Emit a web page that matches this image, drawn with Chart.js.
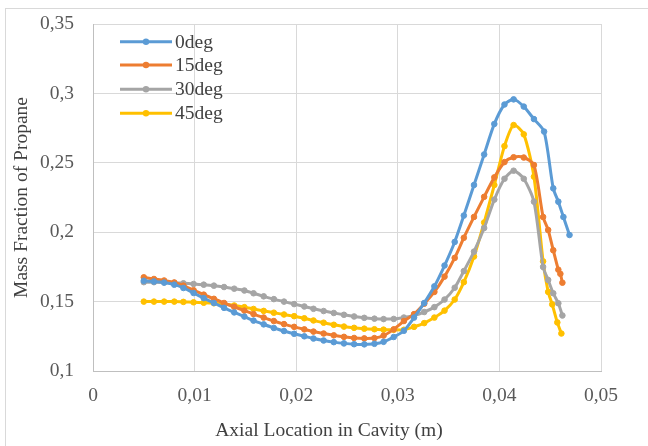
<!DOCTYPE html>
<html>
<head>
<meta charset="utf-8">
<script src="https://cdn.jsdelivr.net/npm/chart.js@4.4.1/dist/chart.umd.min.js"></script>
<style>
  html, body { margin: 0; padding: 0; background: #fff; }
  #wrap { position: relative; width: 648px; height: 446px; overflow: hidden; }
  #frame { position: absolute; left: 5px; top: 8px; width: 700px; height: 500px; border: 1px solid #d9d9d9; box-sizing: border-box; }
  canvas { position: absolute; left: 0; top: 0; }
</style>
</head>
<body>
<div id="wrap">
  <div id="frame"></div>
  <canvas id="chart" width="648" height="446"></canvas>
</div>
<script>
// axial positions shared by the four runs (m)
const xMain = [0.0050, 0.0060, 0.0070, 0.0080, 0.0089, 0.0099, 0.0109, 0.0119, 0.0129, 0.0139,
  0.0149, 0.0158, 0.0168, 0.0178, 0.0188, 0.0198, 0.0208, 0.0217, 0.0227, 0.0237,
  0.0247, 0.0257, 0.0267, 0.0277, 0.0286, 0.0296, 0.0306, 0.0316, 0.0326, 0.0336,
  0.0346, 0.0356, 0.0365, 0.0375, 0.0385, 0.0395, 0.0405, 0.0414, 0.0424, 0.0434];

const y0deg = [0.1650, 0.1645, 0.1637, 0.1622, 0.1598, 0.1562, 0.1525, 0.1490, 0.1455, 0.1422,
  0.1392, 0.1363, 0.1336, 0.1310, 0.1288, 0.1268, 0.1250, 0.1234, 0.1220, 0.1208,
  0.1199, 0.1193, 0.1192, 0.1196, 0.1210, 0.1245, 0.1290, 0.1385, 0.1490, 0.1610,
  0.1760, 0.1930, 0.2120, 0.2340, 0.2560, 0.2780, 0.2920, 0.2957, 0.2905, 0.2815];
const xTail0 = [0.0444, 0.0453, 0.0458, 0.0463, 0.0469];
const yTail0 = [0.2725, 0.2316, 0.2220, 0.2110, 0.1980];

const y15deg = [0.1675, 0.1663, 0.1652, 0.1638, 0.1615, 0.1582, 0.1550, 0.1520, 0.1490, 0.1462,
  0.1435, 0.1410, 0.1385, 0.1360, 0.1338, 0.1318, 0.1300, 0.1284, 0.1270, 0.1257,
  0.1246, 0.1238, 0.1235, 0.1237, 0.1255, 0.1300, 0.1360, 0.1410, 0.1485, 0.1570,
  0.1680, 0.1815, 0.1960, 0.2110, 0.2255, 0.2395, 0.2505, 0.2540, 0.2538, 0.2484];
const xTail15 = [0.0443, 0.0448, 0.0453, 0.0458, 0.0460, 0.0462];
const yTail15 = [0.2110, 0.2016, 0.1870, 0.1730, 0.1700, 0.1636];

const y30deg = [0.1640, 0.1640, 0.1638, 0.1635, 0.1632, 0.1627, 0.1622, 0.1615, 0.1605, 0.1593,
  0.1580, 0.1560, 0.1538, 0.1518, 0.1500, 0.1482, 0.1465, 0.1448, 0.1432, 0.1418,
  0.1405, 0.1393, 0.1383, 0.1377, 0.1374, 0.1375, 0.1385, 0.1400, 0.1425, 0.1460,
  0.1515, 0.1600, 0.1720, 0.1860, 0.2030, 0.2235, 0.2385, 0.2443, 0.2385, 0.2220];
const xTail30 = [0.0443, 0.0448, 0.0453, 0.0458, 0.0462];
const yTail30 = [0.1750, 0.1656, 0.1560, 0.1488, 0.1400];

const y45deg = [0.1500, 0.1500, 0.1500, 0.1500, 0.1498, 0.1495, 0.1492, 0.1488, 0.1482, 0.1472,
  0.1460, 0.1447, 0.1433, 0.1420, 0.1407, 0.1395, 0.1380, 0.1364, 0.1348, 0.1333,
  0.1320, 0.1311, 0.1305, 0.1301, 0.1298, 0.1297, 0.1297, 0.1318, 0.1345, 0.1385,
  0.1435, 0.1515, 0.1640, 0.1825, 0.2070, 0.2340, 0.2620, 0.2772, 0.2705, 0.2400];
const xTail45 = [0.0443, 0.0448, 0.0452, 0.0457, 0.0461];
const yTail45 = [0.1790, 0.1570, 0.1480, 0.1350, 0.1270];

const seriesNames = ["0deg", "15deg", "30deg", "45deg"];
const seriesColors = ["#5B9BD5", "#ED7D31", "#A5A5A5", "#FFC000"];
const xTicks = [0, 0.01, 0.02, 0.03, 0.04, 0.05];
const yTicks = [0.1, 0.15, 0.2, 0.25, 0.3, 0.35];

const FONT = "'Liberation Serif', 'Times New Roman', serif";
const TEXT = "#404040";

function toPoints(xs, ys) {
  return xs.map((x, i) => ({ x: x, y: ys[i] }));
}
function comma(v) {
  return String(Math.round(v * 100) / 100).replace(".", ",");
}

const allX = [xMain.concat(xTail0), xMain.concat(xTail15), xMain.concat(xTail30), xMain.concat(xTail45)];
const allY = [y0deg.concat(yTail0), y15deg.concat(yTail15), y30deg.concat(yTail30), y45deg.concat(yTail45)];

const datasets = seriesNames.map((name, i) => ({
  label: name,
  data: toPoints(allX[i], allY[i]),
  borderColor: seriesColors[i],
  backgroundColor: seriesColors[i],
  borderWidth: 3,
  pointRadius: 2.8,
  pointBorderWidth: 1,
  tension: 0.25,
  fill: false
}));

// legend inside the plot + x axis title
const extras = {
  id: "extras",
  afterDraw(chart) {
    const ctx = chart.ctx;
    ctx.save();
    ctx.font = "19.5px " + FONT;
    ctx.textBaseline = "middle";
    const rows = [41.7, 65, 89.3, 113.3];
    seriesNames.forEach((name, i) => {
      const y = rows[i];
      ctx.strokeStyle = seriesColors[i];
      ctx.lineWidth = 3;
      ctx.beginPath();
      ctx.moveTo(120, y);
      ctx.lineTo(172, y);
      ctx.stroke();
      ctx.fillStyle = seriesColors[i];
      ctx.beginPath();
      ctx.arc(146, y, 3.2, 0, Math.PI * 2);
      ctx.fill();
      ctx.fillStyle = TEXT;
      ctx.textAlign = "left";
      ctx.fillText(name, 175, y + 1);
    });
    ctx.textAlign = "center";
    ctx.fillText("Axial Location in Cavity (m)", 329, 431);
    ctx.restore();
  }
};

new Chart(document.getElementById("chart"), {
  type: "line",
  data: { datasets: datasets },
  options: {
    responsive: false,
    animation: false,
    devicePixelRatio: 1,
    layout: { autoPadding: false, padding: { left: 10, top: 24, right: 47, bottom: 0 } },
    plugins: { legend: { display: false }, tooltip: { enabled: false } },
    scales: {
      x: {
        type: "linear",
        min: 0,
        max: 0.05,
        afterBuildTicks: (s) => { s.ticks = xTicks.map(v => ({ value: v })); },
        afterFit: (s) => { s.height = 75; s.paddingLeft = 0; s.paddingRight = 0; },
        ticks: { callback: (v) => comma(v), font: { family: FONT, size: 19.5 }, color: "#595959", padding: 13, maxRotation: 0 },
        grid: { color: "#d9d9d9", lineWidth: 1, drawTicks: false },
        border: { color: "#bfbfbf" },
        title: { display: false }
      },
      y: {
        min: 0.1,
        max: 0.35,
        afterBuildTicks: (s) => { s.ticks = yTicks.map(v => ({ value: v })); },
        afterFit: (s) => { s.width = 83; s.paddingTop = 0; s.paddingBottom = 0; },
        ticks: { callback: (v) => comma(v), font: { family: FONT, size: 19.5 }, color: "#595959", padding: 19 },
        grid: { color: "#d9d9d9", lineWidth: 1, drawTicks: false },
        border: { color: "#bfbfbf" },
        title: {
          display: true,
          text: "Mass Fraction of Propane",
          font: { family: FONT, size: 19.5 },
          color: TEXT,
          padding: { top: 0, bottom: 0 }
        }
      }
    }
  },
  plugins: [extras]
});
</script>
</body>
</html>
